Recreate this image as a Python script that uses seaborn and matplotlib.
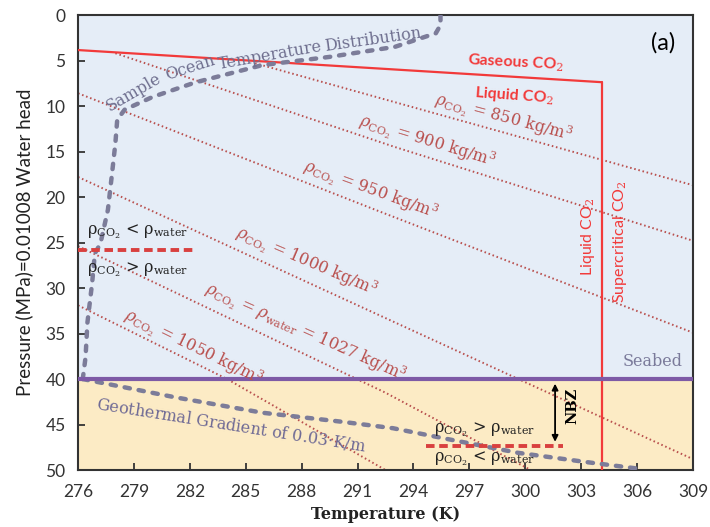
import numpy as np
import pandas as pd
import seaborn as sns
import matplotlib
matplotlib.use("Agg")
import matplotlib.pyplot as plt
from matplotlib.patches import FancyArrowPatch

# ---------------- data ----------------
x_ticks = [276, 279, 282, 285, 288, 291, 294, 297, 300, 303, 306, 309]
y_ticks = [0, 5, 10, 15, 20, 25, 30, 35, 40, 45, 50]

# CO2 phase boundary (saturation line + critical temperature)
sat_T = [276.0, 304.1]
sat_P = [3.85, 7.38]
crit_T = [304.1, 304.1]
crit_P = [7.38, 50.0]

# iso-density lines (kg/m3)
dens_names = ["850", "900", "950", "1000", "1027", "1050"]
dens_T = [
    [285.5, 309.0],
    [278.0, 293.0, 309.0],
    [276.0, 292.2, 309.0],
    [276.0, 292.5, 309.0],
    [276.0, 292.5, 300.3],
    [276.0, 284.0, 292.5],
]
dens_P = [
    [5.3, 18.7],
    [4.2, 14.5, 24.8],
    [8.6, 21.6, 34.9],
    [17.8, 33.3, 48.8],
    [25.4, 41.5, 50.0],
    [31.9, 40.0, 50.0],
]

# sample ocean temperature profile
ocean_T = [295.45, 295.45, 295.2, 293.0, 289.5, 285.9, 282.3, 280.0, 278.5,
           278.1, 278.0, 277.8, 277.6, 277.2, 276.9, 276.75, 276.5, 276.4, 276.25]
ocean_P = [0.0, 1.1, 2.0, 3.5, 4.6, 5.5, 7.4, 9.0, 10.4,
           11.5, 14.1, 17.8, 21.4, 25.1, 26.2, 29.5, 33.8, 37.6, 40.0]

# geothermal gradient below seabed
geo_T = [276.25, 281.2, 285.9, 290.2, 292.9, 296.1, 299.6, 303.2, 305.9]
geo_P = [40.0, 42.0, 43.7, 44.7, 45.4, 46.7, 48.1, 49.1, 49.8]

seabed_P = 40.0
nbz_top_P = 25.8
nbz_bot_P = 47.4

# ---------------- style ----------------
sns.set_theme(style="white")
plt.rcParams["font.family"] = ["Lato", "DejaVu Sans"]
plt.rcParams["mathtext.fontset"] = "dejavuserif"

fig = plt.figure(figsize=(7.10, 5.27), dpi=100)
ax = fig.add_axes([0.110, 0.108, 0.866, 0.8635])

ax.set_xlim(276, 309)
ax.set_ylim(50, 0)

# backgrounds
ax.axhspan(0, seabed_P, color="#e5edf7", zorder=0)
ax.axhspan(seabed_P, 50, color="#fcebc5", zorder=0)

dens_color = "#b9504e"
red = "#f23a3a"
prof_color = "#7c7c99"


def line(T, P, **kw):
    df = pd.DataFrame({"T": T, "P": P})
    sns.lineplot(data=df, x="T", y="P", ax=ax, sort=False, estimator=None,
                 errorbar=None, **kw)


# density lines
for name, T, P in zip(dens_names, dens_T, dens_P):
    line(T, P, color=dens_color, lw=1.4, linestyle=(0, (0.8, 1.4)), zorder=2)

# phase boundary
line(sat_T, sat_P, color=red, lw=1.6, zorder=3)
line(crit_T, crit_P, color=red, lw=1.6, zorder=3)

# ocean and geothermal profiles
for T, P in [(ocean_T, ocean_P), (geo_T, geo_P)]:
    line(T, P, color=prof_color, lw=3.2, linestyle=(0, (1.2, 2.0)),
         dash_capstyle="round", zorder=4)

# seabed
ax.axhline(seabed_P, color="#7d5aa6", lw=3, zorder=5)

# neutral buoyancy markers
ax.plot([276, 282.3], [nbz_top_P, nbz_top_P], color="#d9403f", lw=2.8,
        linestyle=(0, (2.2, 1.2)), zorder=6)
ax.plot([294.65, 302.0], [nbz_bot_P, nbz_bot_P], color="#d9403f", lw=2.8,
        linestyle=(0, (2.2, 1.2)), zorder=6)
arr = FancyArrowPatch((301.6, seabed_P + 0.2), (301.6, nbz_bot_P - 0.2),
                      arrowstyle="<|-|>", mutation_scale=9, color="black",
                      lw=1.3, zorder=7)
ax.add_patch(arr)

serif = "DejaVu Serif"

# density labels
lab_pos = [(298.8, 11.3, -15), (294.7, 13.9, -17), (291.7, 19.3, -20),
           (288.25, 27.1, -23), (288.2, 34.9, -24), (282.2, 36.6, -26)]
lab_txt = [r"$\rho_{\mathrm{CO_2}}$ = 850 kg/m$^3$",
           r"$\rho_{\mathrm{CO_2}}$ = 900 kg/m$^3$",
           r"$\rho_{\mathrm{CO_2}}$ = 950 kg/m$^3$",
           r"$\rho_{\mathrm{CO_2}}$ = 1000 kg/m$^3$",
           r"$\rho_{\mathrm{CO_2}}$ = $\rho_{\mathrm{water}}$ = 1027 kg/m$^3$",
           r"$\rho_{\mathrm{CO_2}}$ = 1050 kg/m$^3$"]
for (t, p, r), s in zip(lab_pos, lab_txt):
    ax.text(t, p, s, color=dens_color, fontsize=11.5, family=serif,
            rotation=r, rotation_mode="anchor", ha="center", va="center",
            zorder=8)

# phase labels
ax.text(299.5, 5.2, r"Gaseous CO$_2$", color=red, fontsize=11.5, weight="bold",
        rotation=-3, rotation_mode="anchor", ha="center", va="center", zorder=8)
ax.text(299.4, 8.9, r"Liquid CO$_2$", color=red, fontsize=11.5, weight="bold",
        rotation=-4, rotation_mode="anchor", ha="center", va="center", zorder=8)
ax.text(303.35, 24.4, r"Liquid CO$_2$", color=red, fontsize=11.5,
        rotation=90, ha="center", va="center", zorder=8)
ax.text(305.1, 24.9, r"Supercritical CO$_2$", color=red, fontsize=11.5,
        rotation=90, ha="center", va="center", zorder=8)

ax.text(306.85, 38.1, "Seabed", color="#7a7a9a", fontsize=11.5, family=serif,
        ha="center", va="center", zorder=8)
ax.text(307.4, 3.0, "(a)", color="black", fontsize=17, ha="center",
        va="center", zorder=8)

# curved ocean profile label (word by word)
for word, t, p, r in [("Sample", 279.0, 8.5, 30), ("Ocean", 282.0, 5.8, 18),
                      ("Temperature", 286.3, 4.4, 10),
                      ("Distribution", 291.8, 2.75, 8)]:
    ax.text(t, p, word, color="#6f6f8f", fontsize=11.5, family=serif,
            rotation=r, rotation_mode="anchor", ha="center", va="center",
            zorder=8)

ax.text(284.2, 45.05, r"Geothermal Gradient of 0.03$\cdot$K/m",
        color="#6f6a95", fontsize=11.5, family=serif, rotation=-9,
        rotation_mode="anchor", ha="center", va="center", zorder=8)

# buoyancy labels
for t, p, s in [(279.2, 23.8, r"$\mathrm{\rho_{CO_2}}$ < $\mathrm{\rho_{water}}$"),
                (279.2, 28.0, r"$\mathrm{\rho_{CO_2}}$ > $\mathrm{\rho_{water}}$"),
                (297.8, 45.6, r"$\mathrm{\rho_{CO_2}}$ > $\mathrm{\rho_{water}}$"),
                (297.8, 48.8, r"$\mathrm{\rho_{CO_2}}$ < $\mathrm{\rho_{water}}$")]:
    ax.text(t, p, s, color="#222222", fontsize=11.5, family=serif,
            ha="center", va="center", zorder=8)

ax.text(302.55, 42.9, "NBZ", color="black", fontsize=10.5, family=serif,
        weight="bold", rotation=90, ha="center", va="center", zorder=8)

# axes
ax.set_xticks(x_ticks)
ax.set_yticks(y_ticks)
ax.tick_params(direction="in", length=5, width=1.3, colors="#333333",
               labelsize=12.5, bottom=True, left=True, top=False, right=False,
               pad=9)
ax.tick_params(axis="x", pad=10)
for sp in ax.spines.values():
    sp.set_color("#333333")
    sp.set_linewidth(1.5)
ax.set_xlabel("Temperature (K)", family=serif, weight="bold", fontsize=11.5,
              color="#222222", labelpad=4)
ax.set_ylabel("Pressure (MPa)=0.01008 Water head", fontsize=13.5,
              color="#222222", labelpad=9)

fig.savefig("out.png", dpi=100)
